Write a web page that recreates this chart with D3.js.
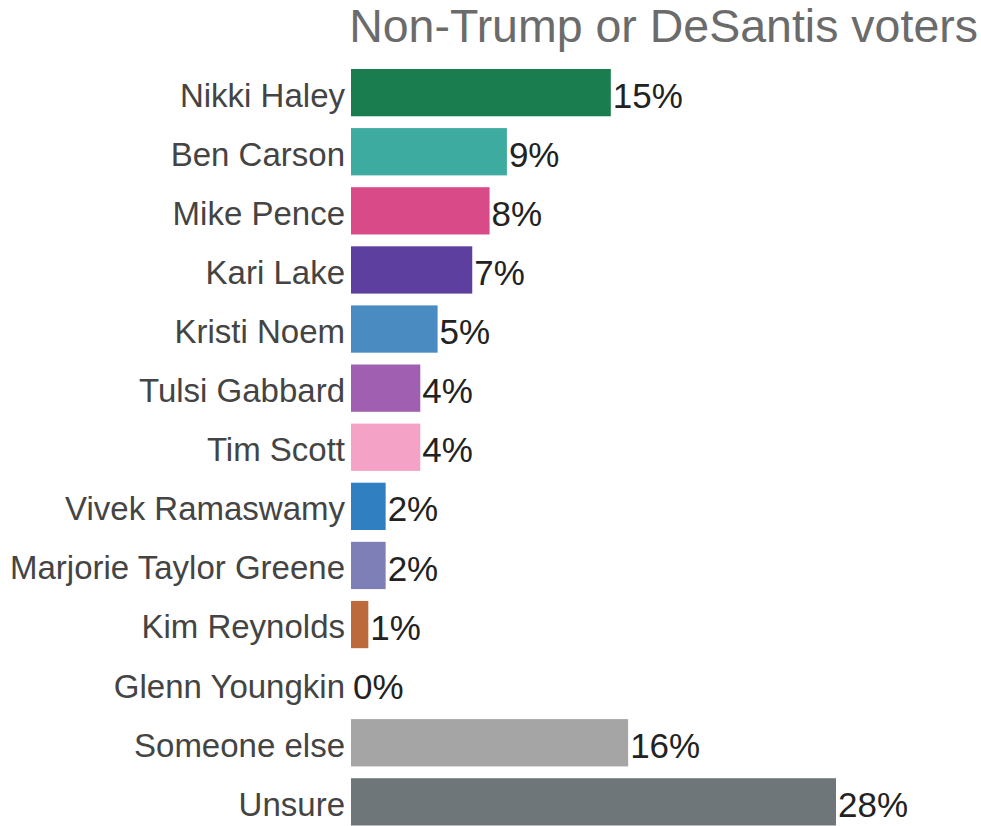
<!DOCTYPE html>
<html><head><meta charset="utf-8">
<script src="https://cdn.jsdelivr.net/npm/d3@7"></script>
<style>body{margin:0;background:#fff;}svg{display:block;font-family:"Liberation Sans",Arial,sans-serif;}</style>
</head><body>
<script>
const categories = ["Nikki Haley","Ben Carson","Mike Pence","Kari Lake","Kristi Noem","Tulsi Gabbard","Tim Scott","Vivek Ramaswamy","Marjorie Taylor Greene","Kim Reynolds","Glenn Youngkin","Someone else","Unsure"];
const values = [15,9,8,7,5,4,4,2,2,1,0,16,28];
const colors = ["#1a7d4f","#3dab9f","#d94a89","#5c3f9e","#4a8bc2","#a05fb0","#f4a3c7","#2f7fc1","#7f7fb8","#bc6a3c","#cccccc","#a5a5a5","#6f7679"];
const title = "Non-Trump or DeSantis voters";

const W = 981, H = 826;
const svg = d3.select("body").append("svg").attr("width", W).attr("height", H);
const x = d3.scaleLinear().domain([0, 28]).range([351, 836]);
const y = d3.scaleBand().domain(categories).range([69, 825.5]).paddingInner(0.2).paddingOuter(0);

svg.append("text").attr("x", 978).attr("y", 42).attr("text-anchor", "end")
  .attr("font-size", 46.5).attr("fill", "#6b6b6b").text(title);

const data = categories.map((c, i) => ({c, v: values[i], col: colors[i]}));

svg.selectAll("rect.bar").data(data).join("rect").attr("class", "bar")
  .attr("x", x(0)).attr("y", d => y(d.c)).attr("width", d => x(d.v) - x(0))
  .attr("height", y.bandwidth()).attr("fill", d => d.col);

svg.selectAll("text.name").data(data).join("text").attr("class", "name")
  .attr("x", 345).attr("y", d => y(d.c) + y.bandwidth() / 2).attr("dy", "0.42em")
  .attr("text-anchor", "end").attr("font-size", 33).attr("fill", "#444").text(d => d.c);

svg.selectAll("text.val").data(data).join("text").attr("class", "val")
  .attr("x", d => x(d.v) + 2).attr("y", d => y(d.c) + y.bandwidth() / 2).attr("dy", "0.43em")
  .attr("font-size", 35).attr("fill", "#222").text(d => d.v + "%");
</script>
</body></html>
